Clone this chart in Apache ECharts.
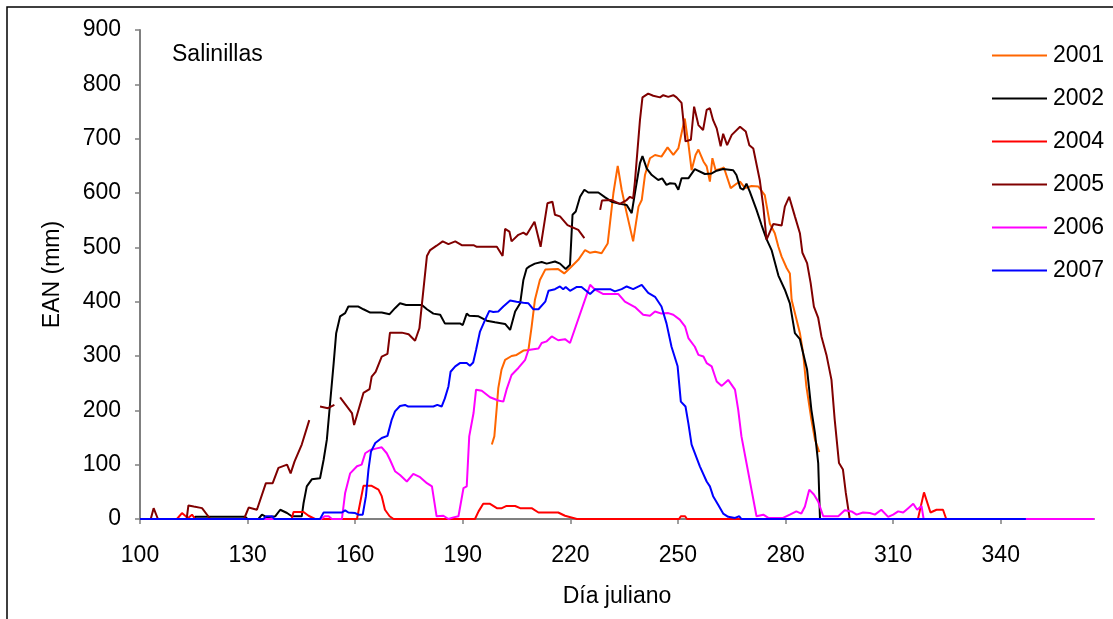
<!DOCTYPE html>
<html><head><meta charset="utf-8">
<script src="https://cdn.jsdelivr.net/npm/echarts@6/dist/echarts.min.js"></script>
<style>html,body{margin:0;padding:0;background:#fff}#c{width:1113px;height:619px}</style>
</head><body><div id="c"></div><script>
// Tick values
const xTicks = [100,130,160,190,220,250,280,310,340];
const seriesNames = ['2001','2002','2004','2005','2006','2007'];
const seriesColors = ['#FF6600','#000000','#FF0000','#800000','#FF00FF','#0000FF'];

// [día juliano, EAN mm]; '-' marks a gap
const s2001 = [[198.1,137],[198.8,152],[199.5,207],[199.9,241],[200.8,275],[201.8,293],[203.6,300],[205,302],[206.9,310],[208.3,311],[209.2,354],[210.1,403],[211.5,440],[213,459],[216.6,460],[218.3,452],[219.9,462],[222.2,477],[224.1,495],[225.5,490],[226.9,492],[228.7,489],[230.4,507],[232,600],[233.2,650],[234.3,606],[235.7,563],[237.5,511],[239,575],[239.9,587],[240.8,633],[242.2,664],[243.6,670],[245.4,667],[247.1,684],[248.7,670],[250.1,682],[251,710],[251.9,737],[252.9,691],[253.8,642],[254.9,670],[255.7,680],[257.1,658],[258,649],[258.9,621],[259.6,664],[260.5,642],[262.2,645],[262.8,647],[264.7,609],[266.3,617],[267.3,621],[268.7,609],[270.5,613],[272.4,612],[274.2,596],[275.6,544],[277,526],[278,501],[278.9,483],[280.3,462],[281.2,452],[281.7,403],[284,342],[284.9,305],[285.8,244],[287.2,183],[288.2,146],[289.4,123]];

const s2002 = [[100,0],[115,0],[115.4,4],[129.3,4],[130,0],[133,0],[134,8],[135.4,3],[137.7,5],[139.1,17],[141,11],[142.3,5],[145.1,5],[145.6,29],[146.5,60],[147.9,73],[150.2,75],[151.2,109],[152.1,146],[153,213],[154,287],[154.7,342],[155.8,373],[157.2,379],[158.1,391],[160.9,391],[162.3,386],[164.2,380],[167.4,380],[169.6,377],[171.1,388],[172.5,397],[174.2,394],[178.6,394],[180,386],[181.8,378],[183.7,376],[185,360],[189.2,360],[190,357],[191.1,378],[191.8,374],[194.4,373],[196.7,365],[199,362],[201.8,359],[203.2,348],[204.6,382],[206,397],[206.9,440],[207.8,461],[208.6,465],[210.1,470],[212,473],[213.4,470],[215.7,474],[217.1,470],[218.7,460],[219.9,468],[220.6,560],[221.5,566],[222.7,593],[223.9,606],[225,601],[227.8,601],[229.7,592],[231.5,584],[233.8,580],[235.7,578],[237.1,563],[238,600],[239.4,655],[240.1,668],[241.3,645],[242.7,633],[244.5,624],[245.6,627],[246.8,615],[247.8,618],[249.2,617],[250.1,606],[251,627],[252.9,627],[254.7,644],[257.5,635],[259.4,636],[260.8,641],[262.6,644],[265.4,642],[266.3,633],[267.4,609],[268.2,606],[269.1,617],[270,603],[271.9,569],[273.3,541],[274.7,515],[276.1,495],[278,448],[279.8,422],[281.2,397],[282.6,342],[284,331],[284.9,305],[286,275],[287.2,201],[288.2,158],[289.1,103],[289.6,0]];

const s2004 = [[100,0],[110.3,0],[111.7,11],[112.6,6],[113.4,2],[114.5,8],[115.4,0],[142.3,0],[142.8,13],[145.6,13],[147,6],[148.8,0],[160.5,0],[162.3,61],[164.6,61],[166.5,54],[167.4,42],[168.3,17],[169.6,5],[170.7,0],[193.4,0],[194.4,14],[195.7,28],[197.6,28],[199.5,20],[200.9,20],[202.2,24],[204.6,24],[206,20],[209.2,20],[211.1,12],[216.6,12],[218.5,6],[220.8,2],[221.8,0],[250.3,0],[250.8,5],[252,5],[252.5,0],[316.9,0],[318.6,49],[320.4,12],[322.1,17],[323.9,17],[324.8,0],[366,0]];

const s2005 = [[100,0],[103,0],[103.8,20],[105,0],[113,0],[113.5,25],[115,23],[117.3,20],[119.6,0],[129,0],[130.3,21],[132.6,17],[135.1,66],[137,66],[138.6,94],[141,100],[142,84],[143.1,106],[145.1,137],[147.2,182],[148.7,'-'],[150.2,207],[152.4,204],[154.2,210],[155,'-'],[155.8,224],[159.1,195],[159.7,173],[162.3,232],[164,239],[164.6,262],[165.7,271],[167.4,299],[169,304],[169.7,343],[173,343],[174.9,340],[176.7,328],[177.9,351],[180,484],[180.9,495],[182.7,503],[184.4,511],[186,506],[187.9,511],[189.7,504],[193,504],[193.9,501],[199.5,501],[201.1,484],[201.8,534],[203,529],[203.6,511],[205.5,523],[206.9,527],[207.8,523],[208.6,532],[210,547],[211.7,501],[213.6,581],[215,584],[215.7,560],[217.1,557],[219.2,541],[222.2,532],[223.9,517],[226,'-'],[228.3,569],[228.8,586],[231.5,587],[233.8,580],[235.7,587],[236.6,593],[237.5,590],[238,621],[239.4,734],[240.1,776],[241.7,783],[243.1,779],[245,776],[245.9,780],[247.3,777],[248.7,780],[249.6,776],[251,766],[252.1,695],[253.6,698],[254.5,759],[255.7,725],[257,716],[258,753],[258.9,756],[259.8,734],[260.8,719],[261.9,686],[262.6,709],[263.7,688],[265,707],[267.3,722],[268.9,713],[269.9,688],[271,682],[272.8,624],[273.8,575],[274.7,514],[276.6,543],[278.9,540],[279.8,575],[281,593],[282.6,557],[284,526],[284.7,490],[286,471],[287,434],[287.9,391],[289.1,370],[290,336],[291.4,302],[292.8,256],[293.7,183],[294.9,103],[296,91],[296.8,48],[297.9,0]];

const s2006 = [[100,0],[150.5,0],[151.5,5],[152.6,5],[153.5,0],[156.3,0],[157.2,48],[158.6,84],[160.5,97],[161.8,100],[162.8,121],[164.2,127],[166,130],[167.4,132],[168.8,121],[169.7,109],[171.1,88],[172.5,81],[174.4,69],[176.2,83],[178.1,77],[180,66],[181.4,60],[182.7,5],[184.6,6],[186,0],[187.4,3],[188.8,5],[190.2,57],[191.1,60],[191.8,152],[193,195],[193.7,238],[195.3,236],[197.6,224],[199.9,218],[201.3,216],[202.2,238],[203.6,265],[205.5,278],[207.4,293],[208.3,311],[208.8,314],[211.1,314],[212,324],[213.4,327],[214.8,336],[216.6,329],[218.5,331],[219.9,324],[225.5,431],[226.9,422],[229.2,414],[233.4,414],[235.2,400],[238,390],[240.3,376],[242.2,374],[243.6,382],[245.4,378],[247.3,379],[248.7,376],[250.5,367],[252,354],[252.9,333],[254.7,317],[255.7,302],[257.1,299],[258,287],[259.4,281],[260.8,253],[262.2,245],[264,256],[265.9,238],[266.8,201],[267.7,152],[269.1,103],[270.5,54],[271.9,5],[273.8,8],[275.2,2],[279.3,2],[281.2,8],[283,14],[284.4,10],[285.4,23],[286.6,54],[287.9,45],[289.1,32],[290.5,5],[294.7,5],[296.5,16],[298.4,14],[299.8,8],[301.6,12],[303.5,11],[304.9,8],[306.7,17],[308.6,4],[310,8],[311.4,14],[312.8,12],[314.2,20],[315.6,28],[316.7,17],[317.9,24],[318.5,0],[366,0]];

const s2007 = [[100,0],[134.4,0],[135.2,5],[136.8,5],[137.5,0],[150.2,0],[151.2,12],[156.3,12],[157.2,16],[158.1,12],[160,11],[160.9,8],[162.1,8],[163,42],[163.7,91],[164.4,124],[165.6,140],[167.4,149],[169,153],[170.2,183],[171.1,198],[172.5,208],[173.9,210],[174.8,207],[181.8,207],[182.9,210],[184.1,207],[185,222],[186,244],[186.6,271],[187.9,281],[189.2,287],[191.1,287],[192,282],[192.9,288],[193.7,311],[194.8,345],[196.2,366],[197.4,383],[198.5,381],[199.9,382],[201.3,391],[203.2,402],[205,400],[206.9,398],[208.3,397],[209.7,386],[211.1,386],[213,400],[213.9,420],[215.7,423],[217.1,428],[218,423],[218.7,427],[219.9,420],[221.8,427],[223.1,427],[225.5,414],[226.9,423],[231.1,423],[232.4,419],[234.3,423],[235.7,428],[237.5,423],[239.9,431],[241.7,416],[243.6,409],[245.4,391],[246.8,360],[248.2,317],[249.9,281],[250.8,216],[252.1,207],[252.9,176],[253.8,137],[256.1,97],[258,69],[258.9,60],[259.8,42],[261.2,26],[262.6,10],[264,4],[265.9,2],[267.1,5],[267.7,0],[347,0]];

const allData = [s2001, s2002, s2004, s2005, s2006, s2007];
const FONT = 'Liberation Sans, Arial, sans-serif';

const chart = echarts.init(document.getElementById('c'), null, {renderer: 'canvas'});
chart.setOption({
  animation: false,
  textStyle: {fontFamily: FONT, color: '#000'},
  title: {
    text: 'Salinillas', left: 172, top: 43, padding: 0,
    textStyle: {fontFamily: FONT, fontSize: 23, fontWeight: 'normal', color: '#000'}
  },
  legend: {
    orient: 'vertical', left: 992, top: 44, padding: 0,
    icon: 'rect', itemWidth: 55, itemHeight: 2, itemGap: 20,
    textStyle: {fontFamily: FONT, fontSize: 23, color: '#000', padding: [0,0,0,1]},
    data: seriesNames
  },
  graphic: [{
    type: 'rect', silent: true,
    shape: {x: 7, y: 7, width: 1300, height: 800},
    style: {fill: 'none', stroke: '#000', lineWidth: 1.5}
  }],
  grid: {left: 140, right: 19, top: 30, bottom: 100, containLabel: false},
  xAxis: {
    type: 'value', min: 100, max: 366, interval: 30,
    name: 'Día juliano', nameLocation: 'middle', nameGap: 66,
    nameTextStyle: {fontFamily: FONT, fontSize: 23, color: '#000'},
    splitLine: {show: false},
    axisLine: {lineStyle: {color: '#808080', width: 2}},
    axisTick: {length: 5, lineStyle: {color: '#808080', width: 1.5}, customValues: xTicks},
    axisLabel: {fontFamily: FONT, fontSize: 23, color: '#000', margin: 25, customValues: xTicks}
  },
  yAxis: {
    type: 'value', min: 0, max: 900, interval: 100,
    name: 'EAN (mm)', nameLocation: 'middle', nameGap: 76, nameRotate: 90,
    nameTextStyle: {fontFamily: FONT, fontSize: 23, color: '#000'},
    splitLine: {show: false},
    axisLine: {show: true, lineStyle: {color: '#808080', width: 2}},
    axisTick: {show: true, length: 5, lineStyle: {color: '#808080', width: 1.5}},
    axisLabel: {fontFamily: FONT, fontSize: 23, color: '#000', margin: 19}
  },
  series: seriesNames.map((n, i) => ({
    name: n, type: 'line', symbol: 'none', connectNulls: false,
    data: allData[i],
    lineStyle: {color: seriesColors[i], width: 2},
    itemStyle: {color: seriesColors[i]}
  }))
});
</script></body></html>
